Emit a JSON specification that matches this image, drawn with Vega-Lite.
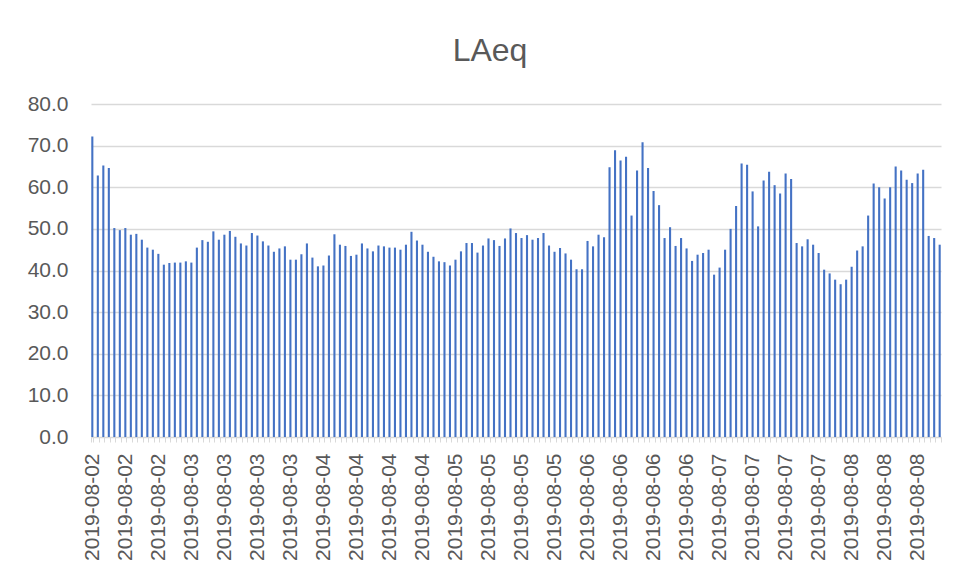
{
  "$schema": "https://vega.github.io/schema/vega-lite/v6.json",
  "autosize": {"type": "none"},
  "width": 850,
  "height": 333,
  "padding": {"left": 91, "top": 104, "right": 15, "bottom": 142},
  "background": "white",
  "config": {
    "view": {"stroke": null},
    "font": "Liberation Sans"
  },
  "title": {
    "text": "LAeq",
    "fontSize": 32,
    "fontWeight": "normal",
    "color": "#595959",
    "anchor": "middle",
    "dx": -26,
    "offset": 0,
    "baseline": "alphabetic"
  },
  "data": {
    "values": [
      {"t":"2019-08-02 06:00","LAeq":72.2},{"t":"2019-08-02 07:00","LAeq":62.8},{"t":"2019-08-02 08:00","LAeq":65.2},{"t":"2019-08-02 09:00","LAeq":64.6},{"t":"2019-08-02 10:00","LAeq":50.2},{"t":"2019-08-02 11:00","LAeq":49.7},{"t":"2019-08-02 12:00","LAeq":50.2},{"t":"2019-08-02 13:00","LAeq":48.6},{"t":"2019-08-02 14:00","LAeq":48.8},{"t":"2019-08-02 15:00","LAeq":47.4},{"t":"2019-08-02 16:00","LAeq":45.5},{"t":"2019-08-02 17:00","LAeq":45.0},{"t":"2019-08-02 18:00","LAeq":44.0},{"t":"2019-08-02 19:00","LAeq":41.4},{"t":"2019-08-02 20:00","LAeq":41.8},{"t":"2019-08-02 21:00","LAeq":41.9},{"t":"2019-08-02 22:00","LAeq":41.9},{"t":"2019-08-02 23:00","LAeq":42.2},
      {"t":"2019-08-03 00:00","LAeq":41.9},{"t":"2019-08-03 01:00","LAeq":45.5},{"t":"2019-08-03 02:00","LAeq":47.3},{"t":"2019-08-03 03:00","LAeq":46.9},{"t":"2019-08-03 04:00","LAeq":49.4},{"t":"2019-08-03 05:00","LAeq":47.4},{"t":"2019-08-03 06:00","LAeq":48.6},{"t":"2019-08-03 07:00","LAeq":49.5},{"t":"2019-08-03 08:00","LAeq":48.1},{"t":"2019-08-03 09:00","LAeq":46.5},{"t":"2019-08-03 10:00","LAeq":46.0},{"t":"2019-08-03 11:00","LAeq":49.0},{"t":"2019-08-03 12:00","LAeq":48.4},{"t":"2019-08-03 13:00","LAeq":47.0},{"t":"2019-08-03 14:00","LAeq":46.0},{"t":"2019-08-03 15:00","LAeq":44.5},{"t":"2019-08-03 16:00","LAeq":45.3},{"t":"2019-08-03 17:00","LAeq":45.8},{"t":"2019-08-03 18:00","LAeq":42.6},{"t":"2019-08-03 19:00","LAeq":42.6},{"t":"2019-08-03 20:00","LAeq":43.9},{"t":"2019-08-03 21:00","LAeq":46.5},{"t":"2019-08-03 22:00","LAeq":43.1},{"t":"2019-08-03 23:00","LAeq":41.0},
      {"t":"2019-08-04 00:00","LAeq":41.2},{"t":"2019-08-04 01:00","LAeq":43.6},{"t":"2019-08-04 02:00","LAeq":48.7},{"t":"2019-08-04 03:00","LAeq":46.2},{"t":"2019-08-04 04:00","LAeq":45.9},{"t":"2019-08-04 05:00","LAeq":43.5},{"t":"2019-08-04 06:00","LAeq":43.8},{"t":"2019-08-04 07:00","LAeq":46.5},{"t":"2019-08-04 08:00","LAeq":45.3},{"t":"2019-08-04 09:00","LAeq":44.6},{"t":"2019-08-04 10:00","LAeq":46.0},{"t":"2019-08-04 11:00","LAeq":45.8},{"t":"2019-08-04 12:00","LAeq":45.5},{"t":"2019-08-04 13:00","LAeq":45.5},{"t":"2019-08-04 14:00","LAeq":45.0},{"t":"2019-08-04 15:00","LAeq":46.2},{"t":"2019-08-04 16:00","LAeq":49.3},{"t":"2019-08-04 17:00","LAeq":47.2},{"t":"2019-08-04 18:00","LAeq":46.2},{"t":"2019-08-04 19:00","LAeq":44.5},{"t":"2019-08-04 20:00","LAeq":43.3},{"t":"2019-08-04 21:00","LAeq":42.2},{"t":"2019-08-04 22:00","LAeq":42.0},{"t":"2019-08-04 23:00","LAeq":41.2},
      {"t":"2019-08-05 00:00","LAeq":42.6},{"t":"2019-08-05 01:00","LAeq":44.6},{"t":"2019-08-05 02:00","LAeq":46.6},{"t":"2019-08-05 03:00","LAeq":46.6},{"t":"2019-08-05 04:00","LAeq":44.3},{"t":"2019-08-05 05:00","LAeq":46.0},{"t":"2019-08-05 06:00","LAeq":47.7},{"t":"2019-08-05 07:00","LAeq":47.3},{"t":"2019-08-05 08:00","LAeq":45.9},{"t":"2019-08-05 09:00","LAeq":47.7},{"t":"2019-08-05 10:00","LAeq":50.1},{"t":"2019-08-05 11:00","LAeq":49.0},{"t":"2019-08-05 12:00","LAeq":47.8},{"t":"2019-08-05 13:00","LAeq":48.5},{"t":"2019-08-05 14:00","LAeq":47.4},{"t":"2019-08-05 15:00","LAeq":47.8},{"t":"2019-08-05 16:00","LAeq":49.0},{"t":"2019-08-05 17:00","LAeq":46.0},{"t":"2019-08-05 18:00","LAeq":44.5},{"t":"2019-08-05 19:00","LAeq":45.4},{"t":"2019-08-05 20:00","LAeq":44.1},{"t":"2019-08-05 21:00","LAeq":42.6},{"t":"2019-08-05 22:00","LAeq":40.3},{"t":"2019-08-05 23:00","LAeq":40.3},
      {"t":"2019-08-06 00:00","LAeq":47.1},{"t":"2019-08-06 01:00","LAeq":45.8},{"t":"2019-08-06 02:00","LAeq":48.6},{"t":"2019-08-06 03:00","LAeq":48.0},{"t":"2019-08-06 04:00","LAeq":64.8},{"t":"2019-08-06 05:00","LAeq":68.9},{"t":"2019-08-06 06:00","LAeq":66.4},{"t":"2019-08-06 07:00","LAeq":67.3},{"t":"2019-08-06 08:00","LAeq":53.2},{"t":"2019-08-06 09:00","LAeq":64.0},{"t":"2019-08-06 10:00","LAeq":70.8},{"t":"2019-08-06 11:00","LAeq":64.6},{"t":"2019-08-06 12:00","LAeq":59.1},{"t":"2019-08-06 13:00","LAeq":55.7},{"t":"2019-08-06 14:00","LAeq":47.8},{"t":"2019-08-06 15:00","LAeq":50.4},{"t":"2019-08-06 16:00","LAeq":45.9},{"t":"2019-08-06 17:00","LAeq":47.8},{"t":"2019-08-06 18:00","LAeq":45.3},{"t":"2019-08-06 19:00","LAeq":42.3},{"t":"2019-08-06 20:00","LAeq":43.8},{"t":"2019-08-06 21:00","LAeq":44.2},{"t":"2019-08-06 22:00","LAeq":45.0},{"t":"2019-08-06 23:00","LAeq":39.0},
      {"t":"2019-08-07 00:00","LAeq":40.7},{"t":"2019-08-07 01:00","LAeq":45.0},{"t":"2019-08-07 02:00","LAeq":50.0},{"t":"2019-08-07 03:00","LAeq":55.5},{"t":"2019-08-07 04:00","LAeq":65.7},{"t":"2019-08-07 05:00","LAeq":65.4},{"t":"2019-08-07 06:00","LAeq":59.0},{"t":"2019-08-07 07:00","LAeq":50.6},{"t":"2019-08-07 08:00","LAeq":61.6},{"t":"2019-08-07 09:00","LAeq":63.7},{"t":"2019-08-07 10:00","LAeq":60.5},{"t":"2019-08-07 11:00","LAeq":58.5},{"t":"2019-08-07 12:00","LAeq":63.3},{"t":"2019-08-07 13:00","LAeq":62.0},{"t":"2019-08-07 14:00","LAeq":46.6},{"t":"2019-08-07 15:00","LAeq":45.8},{"t":"2019-08-07 16:00","LAeq":47.5},{"t":"2019-08-07 17:00","LAeq":46.2},{"t":"2019-08-07 18:00","LAeq":44.2},{"t":"2019-08-07 19:00","LAeq":40.2},{"t":"2019-08-07 20:00","LAeq":39.3},{"t":"2019-08-07 21:00","LAeq":37.8},{"t":"2019-08-07 22:00","LAeq":36.7},{"t":"2019-08-07 23:00","LAeq":37.8},
      {"t":"2019-08-08 00:00","LAeq":40.9},{"t":"2019-08-08 01:00","LAeq":44.8},{"t":"2019-08-08 02:00","LAeq":45.8},{"t":"2019-08-08 03:00","LAeq":53.2},{"t":"2019-08-08 04:00","LAeq":60.9},{"t":"2019-08-08 05:00","LAeq":60.0},{"t":"2019-08-08 06:00","LAeq":57.3},{"t":"2019-08-08 07:00","LAeq":60.0},{"t":"2019-08-08 08:00","LAeq":65.0},{"t":"2019-08-08 09:00","LAeq":64.0},{"t":"2019-08-08 10:00","LAeq":61.8},{"t":"2019-08-08 11:00","LAeq":61.0},{"t":"2019-08-08 12:00","LAeq":63.3},{"t":"2019-08-08 13:00","LAeq":64.2},{"t":"2019-08-08 14:00","LAeq":48.3},{"t":"2019-08-08 15:00","LAeq":47.8},{"t":"2019-08-08 16:00","LAeq":46.2}
    ]
  },
  "mark": {"type": "bar", "color": "#4472C4"},
  "encoding": {
    "x": {
      "field": "t",
      "type": "ordinal",
      "sort": null,
      "scale": {"paddingInner": 0.62, "paddingOuter": 0.05},
      "axis": {
        "title": null,
        "labelAngle": -90,
        "labelFontSize": 21,
        "labelColor": "#595959",
        "labelOverlap": false,
        "labelPadding": 11,
        "labelExpr": "isString(datum.value) && length(datum.value) > 12 && toNumber(substring(datum.value, 11, 13)) % 6 == 0 ? substring(datum.value, 0, 10) : ''",
        "tickBand": "extent",
        "tickSize": 5,
        "tickColor": "#d9d9d9",
        "domainColor": "#d9d9d9",
        "grid": false
      }
    },
    "y": {
      "field": "LAeq",
      "type": "quantitative",
      "scale": {"domain": [0, 80], "nice": false},
      "axis": {
        "title": null,
        "values": [0, 10, 20, 30, 40, 50, 60, 70, 80],
        "format": ".1f",
        "labelFontSize": 21,
        "labelColor": "#595959",
        "labelPadding": 23,
        "ticks": false,
        "domain": false,
        "gridColor": "#d9d9d9",
        "gridWidth": 1.3
      }
    }
  }
}
